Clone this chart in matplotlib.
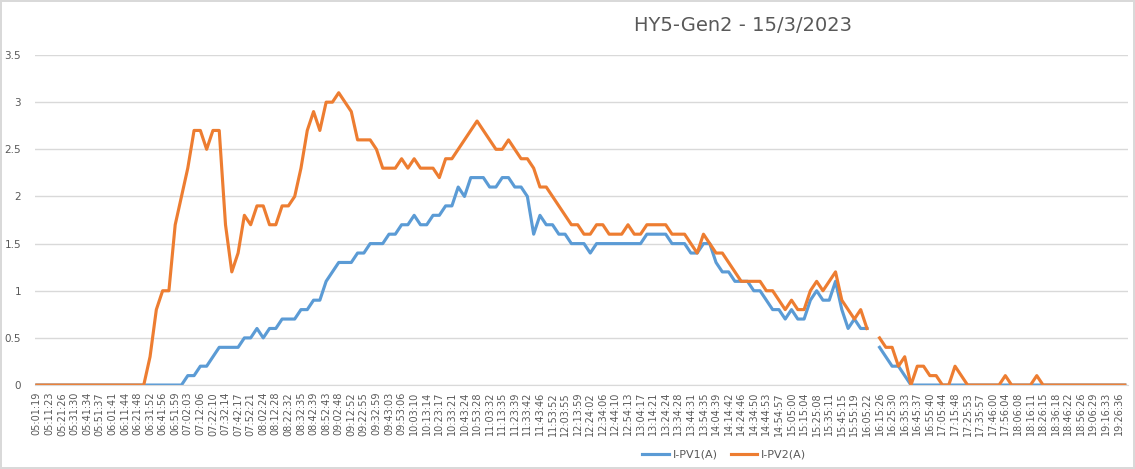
import numpy as np
import matplotlib
matplotlib.use("Agg")
import matplotlib.pyplot as plt

# ---------------------- DADOS -------------------------
rotulos = [
    "05:01:19", "05:11:23", "05:21:26", "05:31:30", "05:41:34", "05:51:37",
    "06:01:41", "06:11:44", "06:21:48", "06:31:52", "06:41:56", "06:51:59",
    "07:02:03", "07:12:06", "07:22:10", "07:32:14", "07:42:17", "07:52:21",
    "08:02:24", "08:12:28", "08:22:32", "08:32:35", "08:42:39", "08:52:43",
    "09:02:48", "09:12:52", "09:22:55", "09:32:59", "09:43:03", "09:53:06",
    "10:03:10", "10:13:14", "10:23:17", "10:33:21", "10:43:24", "10:53:28",
    "11:03:32", "11:13:35", "11:23:39", "11:33:42", "11:43:46", "11:53:52",
    "12:03:55", "12:13:59", "12:24:02", "12:34:06", "12:44:10", "12:54:13",
    "13:04:17", "13:14:21", "13:24:24", "13:34:28", "13:44:31", "13:54:35",
    "14:04:39", "14:14:42", "14:24:46", "14:34:50", "14:44:53", "14:54:57",
    "15:05:00", "15:15:04", "15:25:08", "15:35:11", "15:45:15", "15:55:19",
    "16:05:22", "16:15:26", "16:25:30", "16:35:33", "16:45:37", "16:55:40",
    "17:05:44", "17:15:48", "17:25:53", "17:35:57", "17:46:00", "17:56:04",
    "18:06:08", "18:16:11", "18:26:15", "18:36:18", "18:46:22", "18:56:26",
    "19:06:29", "19:16:33", "19:26:36",
]

nan = np.nan

i_pv1 = [0] * 24 + [
    0.1, 0.1, 0.2, 0.2, 0.3, 0.4, 0.4, 0.4, 0.4, 0.5, 0.5, 0.6, 0.5, 0.6, 0.6, 0.7,
    0.7, 0.7, 0.8, 0.8, 0.9, 0.9, 1.1, 1.2, 1.3, 1.3, 1.3, 1.4, 1.4, 1.5, 1.5, 1.5,
    1.6, 1.6, 1.7, 1.7, 1.8, 1.7, 1.7, 1.8, 1.8, 1.9, 1.9, 2.1, 2.0, 2.2, 2.2, 2.2,
    2.1, 2.1, 2.2, 2.2, 2.1, 2.1, 2.0, 1.6, 1.8, 1.7, 1.7, 1.6, 1.6, 1.5, 1.5, 1.5,
    1.4, 1.5, 1.5, 1.5, 1.5, 1.5, 1.5, 1.5, 1.5, 1.6, 1.6, 1.6, 1.6, 1.5, 1.5, 1.5,
    1.4, 1.4, 1.5, 1.5, 1.3, 1.2, 1.2, 1.1, 1.1, 1.1, 1.0, 1.0, 0.9, 0.8, 0.8, 0.7,
    0.8, 0.7, 0.7, 0.9, 1.0, 0.9, 0.9, 1.1, 0.8, 0.6, 0.7, 0.6, 0.6, nan, 0.4, 0.3,
    0.2, 0.2, 0.1,
] + [0] * 35

i_pv2 = [0] * 18 + [
    0.3, 0.8, 1.0, 1.0, 1.7, 2.0, 2.3, 2.7, 2.7, 2.5, 2.7, 2.7, 1.7, 1.2, 1.4, 1.8,
    1.7, 1.9, 1.9, 1.7, 1.7, 1.9, 1.9, 2.0, 2.3, 2.7, 2.9, 2.7, 3.0, 3.0, 3.1, 3.0,
    2.9, 2.6, 2.6, 2.6, 2.5, 2.3, 2.3, 2.3, 2.4, 2.3, 2.4, 2.3, 2.3, 2.3, 2.2, 2.4,
    2.4, 2.5, 2.6, 2.7, 2.8, 2.7, 2.6, 2.5, 2.5, 2.6, 2.5, 2.4, 2.4, 2.3, 2.1, 2.1,
    2.0, 1.9, 1.8, 1.7, 1.7, 1.6, 1.6, 1.7, 1.7, 1.6, 1.6, 1.6, 1.7, 1.6, 1.6, 1.7,
    1.7, 1.7, 1.7, 1.6, 1.6, 1.6, 1.5, 1.4, 1.6, 1.5, 1.4, 1.4, 1.3, 1.2, 1.1, 1.1,
    1.1, 1.1, 1.0, 1.0, 0.9, 0.8, 0.9, 0.8, 0.8, 1.0, 1.1, 1.0, 1.1, 1.2, 0.9, 0.8,
    0.7, 0.8, 0.6, nan, 0.5, 0.4, 0.4, 0.2, 0.3, 0, 0.2, 0.2, 0.1, 0.1, 0, 0,
    0.2, 0.1, 0, 0, 0, 0, 0, 0, 0.1, 0, 0, 0, 0, 0.1,
] + [0] * 14

titulo = "HY5-Gen2 - 15/3/2023"
nomes = ["I-PV1(A)", "I-PV2(A)"]
cores = ["#5B9BD5", "#ED7D31"]

# ---------------------- PLOTAGEM -------------------------
cinza = "#595959"
plt.rcParams["font.family"] = ["DejaVu Sans"]

fig = plt.figure(figsize=(11.35, 4.69), dpi=100)
fig.patch.set_edgecolor("#d9d9d9")
fig.patch.set_linewidth(1.5)
ax = fig.add_axes([0.0308, 0.179, 0.963, 0.7037])

x = np.arange(len(i_pv1))
for serie, nome, cor in zip([i_pv1, i_pv2], nomes, cores):
    ax.plot(x, serie, color=cor, linewidth=2.25, label=nome, solid_joinstyle="round")

ax.set_ylim(0, 3.5)
ax.set_xlim(-0.3, len(x) - 0.5)
ax.set_yticks(np.arange(0, 3.51, 0.5))
ax.set_yticklabels(["0", "0.5", "1", "1.5", "2", "2.5", "3", "3.5"])
ax.set_xticks(np.arange(0, len(x), 2)[:len(rotulos)])
ax.set_xticklabels(rotulos, rotation=90)
ax.tick_params(axis="y", length=0, pad=10, labelsize=7.5, colors=cinza)
ax.tick_params(axis="x", length=0, pad=5, labelsize=7, colors=cinza)
ax.grid(axis="y", color="#d9d9d9", linewidth=1)
ax.set_axisbelow(True)
for lado in ["left", "right", "top"]:
    ax.spines[lado].set_visible(False)
ax.spines["bottom"].set_color("#d9d9d9")

fig.text(0.655, 0.945, titulo, ha="center", va="center", fontsize=14, color=cinza)
fig.legend(loc="center", bbox_to_anchor=(0.638, 0.03), ncol=2, frameon=False,
           fontsize=8, handlelength=2.4, columnspacing=1.2, handletextpad=0.3,
           labelcolor=cinza)

fig.savefig("out.png", dpi=100)
